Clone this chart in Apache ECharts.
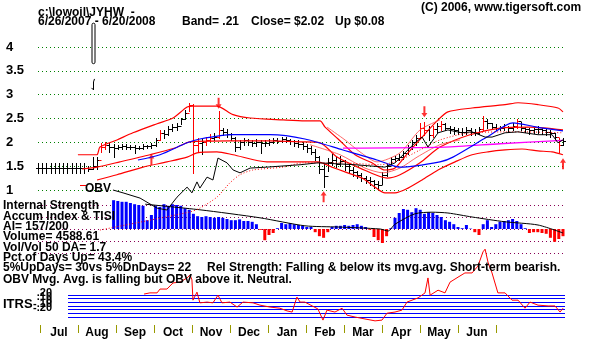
<!DOCTYPE html>
<html><head><meta charset="utf-8">
<script src="https://cdn.jsdelivr.net/npm/echarts@6/dist/echarts.min.js"></script>
<style>html,body{margin:0;padding:0;background:#fff}#c{width:611px;height:339px}</style>
</head><body><div id="c"></div>
<script>
// ---- axis labels ----
const months = ['Jul','Aug','Sep','Oct','Nov','Dec','Jan','Feb','Mar','Apr','May','Jun'];

// ---- daily price bars, one every second trading day (day 0 .. 250) ----
const priceHigh = [1.56,1.56,1.56,1.56,1.56,1.56,1.56,1.56,1.56,1.56,1.56,1.56,
 1.50,1.70,1.70,1.98,2.00,1.98,1.97,1.95,1.97,1.96,
 1.94,1.95,1.93,1.96,1.95,1.98,2.10,2.25,2.25,2.35,
 2.38,2.40,2.52,2.68,2.82,2.80,2.10,2.10,2.12,2.18,
 2.20,2.65,2.30,2.28,2.20,2.12,2.05,2.10,2.08,2.05,
 2.06,2.05,2.04,2.06,2.10,2.10,2.12,2.12,2.08,2.05,
 2.04,2.00,1.96,1.92,1.85,1.72,1.55,1.68,1.75,1.70,
 1.72,1.62,1.55,1.48,1.40,1.35,1.30,1.28,1.20,1.18,
 1.38,1.55,1.70,1.72,1.75,1.82,1.95,2.05,2.15,2.40,
 2.42,2.35,2.35,2.40,2.45,2.40,2.35,2.32,2.30,2.30,
 2.32,2.30,2.28,2.32,2.55,2.50,2.40,2.38,2.35,2.38,
 2.35,2.40,2.50,2.42,2.32,2.30,2.32,2.35,2.30,2.28,
 2.26,2.20,2.10,2.10];
const priceLow = [1.36,1.36,1.36,1.36,1.36,1.36,1.36,1.36,1.36,1.36,1.36,1.36,
 1.40,1.44,1.45,1.80,1.85,1.80,1.70,1.85,1.86,1.87,
 1.86,1.78,1.85,1.86,1.88,1.88,1.92,2.05,2.10,2.15,
 2.24,2.26,2.38,2.50,2.65,1.36,1.80,1.76,1.95,2.02,
 2.05,2.10,2.15,2.12,2.05,1.82,1.85,1.95,1.95,1.92,
 1.92,1.78,1.92,1.94,1.98,1.98,2.00,2.00,1.96,1.92,
 1.90,1.85,1.80,1.75,1.62,1.35,1.06,1.40,1.52,1.48,
 1.50,1.42,1.35,1.30,1.25,1.18,1.15,1.10,1.04,1.02,
 1.12,1.30,1.55,1.60,1.62,1.65,1.75,1.85,1.95,2.10,
 2.15,2.05,2.12,2.22,2.25,2.25,2.20,2.18,2.18,2.15,
 2.18,2.15,2.15,2.18,2.25,2.30,2.28,2.25,2.25,2.25,
 2.22,2.25,2.30,2.25,2.22,2.18,2.20,2.20,2.18,2.15,
 2.12,2.05,1.80,1.95];
const priceClose = [1.46,1.46,1.46,1.46,1.46,1.46,1.46,1.46,1.46,1.46,1.46,1.46,
 1.45,1.50,1.62,1.90,1.95,1.90,1.88,1.90,1.92,1.90,
 1.91,1.88,1.89,1.92,1.92,1.95,2.05,2.20,2.18,2.28,
 2.32,2.35,2.48,2.62,2.78,1.95,1.98,2.00,2.05,2.10,
 2.12,2.25,2.22,2.18,2.10,1.90,2.00,2.05,2.00,1.98,
 2.00,1.98,1.98,2.00,2.05,2.03,2.06,2.05,2.02,1.98,
 1.96,1.92,1.88,1.80,1.70,1.45,1.30,1.58,1.62,1.55,
 1.60,1.50,1.42,1.38,1.32,1.25,1.22,1.18,1.12,1.10,
 1.32,1.50,1.65,1.68,1.70,1.78,1.90,2.00,2.10,2.30,
 2.25,2.15,2.28,2.35,2.38,2.30,2.28,2.25,2.22,2.22,
 2.25,2.22,2.20,2.28,2.45,2.40,2.32,2.30,2.30,2.32,
 2.30,2.35,2.45,2.30,2.28,2.25,2.28,2.28,2.25,2.22,
 2.20,2.12,1.94,2.02];
const redBarDays = [30,32,58,72,74,76,80,82,86,182,184,188,192,212,228,248];

// stray print on the first trading day
const spikeDays = [26, 26];
const spikeTop = [4.50, 3.33];
const spikeBottom = [3.65, 3.10];

// ---- bands and averages on the price scale ----
const upperDays = [19,28,29.5,37.6,45.2,56.7,64.3,71,73.8,85.2,92.9,101,116.7,127.1,134.3,136.7,142.9,151,159,165.2,170,176.2,182.9,190.5,195.2,206.7,222.4,228.6,238.1,247.6,250];
const upperVals = [1.74,1.74,1.90,2.05,2.20,2.39,2.51,2.74,2.76,2.76,2.58,2.51,2.47,2.45,2.45,2.32,2.07,1.74,1.57,1.42,1.46,1.78,2.11,2.47,2.64,2.72,2.79,2.83,2.79,2.72,2.64];
const lowerDays = [28.1,37.6,50,61.4,71,75.7,85.2,92.9,109,126.2,133.3,140,146.2,154.3,160.5,165.2,170,176.2,182.9,190.5,198.6,206.7,214.3,222.4,230.5,238.1,244.8,250];
const lowerVals = [1.21,1.32,1.48,1.59,1.69,1.78,1.80,1.74,1.59,1.59,1.59,1.48,1.38,1.25,1.06,0.94,0.94,1.04,1.21,1.42,1.59,1.74,1.80,1.84,1.86,1.82,1.80,1.74];
const midDays = [21,28.1,39,53.3,65.2,72.4,91.4,110.5,124.8,134.3,142.4,153.3,166.2,172.4,181.9,191.4,205.7,220,234.3,250];
const midVals = [1.44,1.48,1.59,1.74,1.88,2.01,2.03,2.03,2.01,1.99,1.69,1.46,1.25,1.32,1.57,1.90,2.16,2.30,2.32,2.26];
const innerUpDays = [137.6,146.2,153.3,161.4,172.4,181.9,191.4];
const innerUpVals = [2.32,2.05,1.80,1.59,1.78,2.26,2.47];
const innerLoDays = [129.5,143.8,155.7,164.3,172.4,180.5,191.4,201];
const innerLoVals = [1.95,1.74,1.46,1.36,1.46,1.69,1.95,2.05];
const blueDays = [47.6,58.1,71,77.1,92.9,110.5,127.1,145.2,161.4,167.6,172.4,191.4,197.6,213.8,226.2,237.6,250];
const blueVals = [1.63,1.74,1.99,2.07,2.16,2.16,2.07,1.84,1.63,1.53,1.48,1.59,1.69,2.11,2.41,2.32,2.24];
const magentaDays = [145.2,193.8,220,250];
const magentaVals = [1.88,1.90,1.97,2.04];
const obvDays = [35.7,40.5,48.6,56.7,61.4,66.2,71,73.3,75.7,77.1,80.5,83.3,85.7,90,92.9,96.2,101,109,124.8,133.3,151,165.2,170,174.8,179.5,182.9,185.7,190.5,195.2,201.9,206.7,212.9,216.2,222.4,228.6,238.1,244.8,247.6,250];
const obvVals = [1.0,0.94,0.83,0.62,0.58,0.85,1.06,0.94,1.17,1.04,1.27,1.21,1.67,1.57,1.42,1.36,1.46,1.48,1.53,1.57,1.53,1.48,1.57,1.78,1.99,2.11,1.90,2.20,2.26,2.20,2.22,2.11,2.11,2.20,2.22,2.16,2.16,1.99,2.05];
const obvAvgDays = [29.5,72.4,77.1,85.2,91.4,96.2,102.4,116.7,126.2,143.8,162.9,172.4,181.9,191.4,205.7,229.5,250];
const obvAvgVals = [0.16,0.54,0.62,0.85,1.15,1.32,1.42,1.48,1.57,1.57,1.53,1.63,1.84,2.05,2.20,2.22,2.20];

const upArrowDays = [54,136,250];
const upArrowVals = [1.64,0.86,1.55];
const downArrowDays = [86,184];
const downArrowVals = [2.82,2.64];

// ---- accumulation index (every second day from day 36) and its average ----
const accumStart = 36;
const accumVals = [0.36,0.35,0.34,0.34,0.325,0.31,0.30,0.29,0.11,0.175,
 0.29,0.275,0.31,0.29,0.31,0.30,0.29,0.26,0.24,0.19,
 0.16,0.15,0.16,0.15,0.14,0.15,0.14,0.125,0.11,0.11,
 0.12,0.10,0.10,0.09,0.06,-0.01,-0.14,-0.075,-0.05,0.01,
 0.075,0.06,0.075,0.06,0.05,0.04,0.025,0.025,-0.04,-0.09,
 -0.11,-0.04,0.025,0.04,0.04,0.05,0.04,0.05,0.06,0.04,
 0.025,-0.01,-0.10,-0.14,-0.175,-0.09,0.01,0.14,0.20,0.25,
 0.24,0.21,0.26,0.24,0.19,0.21,0.20,0.175,0.15,0.11,
 0.09,0.06,0.025,0.01,0.05,0.005,-0.04,-0.075,0.06,0.11,
 0.025,0.06,0.09,0.10,0.11,0.125,0.10,0.06,0.01,-0.05,
 -0.04,-0.04,-0.05,-0.06,-0.11,-0.16,-0.125,-0.09];
const tisiDays = [51,77.1,105.7,127.1,142.9,162.9,166.7,170,179.5,187.6,195.2,206.7,222.4,238.1,250];
const tisiVals = [0.31,0.24,0.14,0.04,0.025,0,-0.025,0.06,0.19,0.21,0.20,0.15,0.09,0.05,-0.05];

// ---- ITRS relative strength ----
const itrsDays = [50.5,53.3,56.7,58.1,61.4,64.3,67.6,71,72.4,73.3,73.8,75.7,77.1,80.5,83.3,85.7,87.6,91.4,94.8,97.6,102.4,105.7,110.5,115.2,118.6,121,123.3,124.8,127.1,133.3,135.7,137.6,141.4,144.8,147.1,151,155.7,160.5,163.8,166.2,170,173.3,175.7,181,184.3,185.7,186.7,190.5,193.8,196.2,200,203.3,206.7,209.5,211.9,212.9,214.3,216.2,219,222.4,225.7,228.6,231.9,234.3,238.1,242.9,246.2,248.6,250];
const itrsVals = [0.30,0.33,0.33,0.43,0.43,0.59,0.61,0.72,0.80,0.67,0.14,0.35,0.07,0.09,0.07,0.27,0.07,0.09,-0.04,0.09,0.07,0.01,-0.04,-0.07,-0.14,-0.17,0.22,0.09,0.09,-0.09,-0.38,-0.12,-0.17,-0.07,-0.25,-0.30,-0.35,-0.40,-0.38,-0.20,-0.17,-0.12,0.09,0.20,0.33,0.72,0.27,0.40,0.33,0.61,0.74,0.85,0.85,1.03,1.40,1.47,1.13,0.85,0.33,0.33,0.14,0.14,-0.07,0.09,0.01,-0.01,-0.01,-0.17,-0.07];

// ---------------------------------------------------------------
const FAM = '"Liberation Sans", Arial, sans-serif';
const pair = (xs, ys) => xs.map((x, i) => [x, ys[i]]);

const bars = priceHigh.map((h, i) => {
  const day = i * 2;
  const prev = i > 0 ? priceClose[i - 1] : priceClose[i];
  return [day, h, priceLow[i], priceClose[i], prev, redBarDays.includes(day) ? 1 : 0];
});
const accumData = accumVals.map((v, i) => [accumStart + i * 2, v]);

function px(v) { return Math.round(v) + 0.5; }

function renderBar(params, api) {
  const d = api.value(0);
  const top = api.coord([d, api.value(1)]);
  const bot = api.coord([d, api.value(2)]);
  const c = api.coord([d, api.value(3)]);
  const o = api.coord([d, api.value(4)]);
  const col = api.value(5) ? '#ff0000' : '#000000';
  const x = px(top[0]);
  return { type: 'group', children: [
    { type: 'line', shape: { x1: x, y1: Math.round(top[1]), x2: x, y2: Math.round(bot[1]) + 1 }, style: { stroke: col, lineWidth: 1 } },
    { type: 'line', shape: { x1: x, y1: px(c[1]), x2: x + 2.5, y2: px(c[1]) }, style: { stroke: col, lineWidth: 1 } },
    { type: 'line', shape: { x1: x - 2.5, y1: px(o[1]), x2: x, y2: px(o[1]) }, style: { stroke: col, lineWidth: 1 } }
  ]};
}

function renderSpike(params, api) {
  const d = api.value(0);
  const top = api.coord([d, api.value(1)]);
  const bot = api.coord([d, api.value(2)]);
  const x = px(top[0]);
  if (params.dataIndex === 0) {
    return { type: 'rect', shape: { x: x - 1.5, y: top[1], width: 3, height: bot[1] - top[1], r: 1.5 },
      style: { stroke: '#000', fill: '#fff', lineWidth: 1 } };
  }
  return { type: 'polyline', shape: { points: [[x + 1, top[1]], [x, top[1] + 3], [x, bot[1]], [x - 2, bot[1] - 2]] },
    style: { stroke: '#000', fill: null, lineWidth: 1 } };
}

function lineSeries(xs, ys, color, width, extra) {
  return Object.assign({
    type: 'line', xAxisIndex: 0, yAxisIndex: 0, data: pair(xs, ys),
    showSymbol: false, symbol: 'none', smooth: 0.25, clip: false, silent: true,
    lineStyle: { color: color, width: width }
  }, extra || {});
}

const arrowDown = 'path://M2,0 L4,0 L4,6 L6,6 L3,10 L0,6 L2,6 Z';
const arrowUp = 'path://M3,0 L6,4 L4,4 L4,10 L2,10 L2,4 L0,4 Z';

const textStyle = (s, x, y, extra) => ({
  type: 'text', x: x, y: y, silent: true, z: 100,
  style: Object.assign({ text: s, font: 'bold 12px ' + FAM, fill: '#000', verticalAlign: 'middle', textVerticalAlign: 'middle' }, extra || {})
});

const option = {
  animation: false,
  backgroundColor: '#ffffff',
  grid: [
    { left: 38, right: 48, top: 47, height: 143 },      // price panel
    { left: 38, right: 48, top: 205, height: 48 },      // accumulation panel
    { left: 68, right: 46, top: 295, height: 22 },      // ITRS level lines
    { left: 38, right: 48, top: 244.2, height: 80.5 },  // ITRS curve
    { left: 40, width: 456, top: 280, height: 46 }      // month axis
  ],
  xAxis: [
    { gridIndex: 0, type: 'value', min: 0, max: 250, show: false },
    { gridIndex: 1, type: 'value', min: 0, max: 250, show: false },
    { gridIndex: 2, type: 'value', min: 0, max: 1, show: false },
    { gridIndex: 3, type: 'value', min: 0, max: 250, show: false },
    { gridIndex: 4, type: 'category', data: months, boundaryGap: true, position: 'bottom',
      axisLine: { show: false },
      axisTick: { show: true, length: 8, interval: 0, lineStyle: { color: '#999900', width: 1 } },
      axisLabel: { interval: 0, margin: 2, color: '#000', fontSize: 12, fontWeight: 'bold', fontFamily: FAM },
      splitLine: { show: false } }
  ],
  yAxis: [
    { gridIndex: 0, type: 'value', min: 1, max: 4, interval: 0.5,
      axisLine: { show: false }, axisTick: { show: false },
      axisLabel: { align: 'left', margin: 32, color: '#000', fontSize: 13, fontWeight: 'bold', fontFamily: FAM },
      splitLine: { show: true, lineStyle: { color: '#008000', type: [1, 3], width: 1 } } },
    { gridIndex: 1, type: 'value', min: -0.3, max: 0.3, interval: 0.15,
      axisLine: { show: false }, axisTick: { show: false }, axisLabel: { show: false },
      splitLine: { show: true, lineStyle: { color: '#880055', type: [1, 3], width: 1 } } },
    { gridIndex: 2, type: 'value', min: -0.3, max: 0.3, interval: 0.1,
      axisLine: { show: false }, axisTick: { show: false },
      axisLabel: { margin: 16, color: '#000', fontSize: 11, fontWeight: 'bold', fontFamily: FAM, verticalAlign: 'bottom',
        formatter: v => { const r = Math.round(v * 100); if (r === 0) return '0'; const s = '.' + String(Math.abs(r)); return r < 0 ? '-' + s : s; } },
      splitLine: { show: true, lineStyle: { color: '#0000ff', width: 1 } } },
    { gridIndex: 3, type: 'value', min: -0.5, max: 1.6, show: false },
    { gridIndex: 4, type: 'value', show: false }
  ],
  graphic: [
    textStyle('c:\\lowoil\\JYHW  -', 38, 13),
    textStyle('6/26/2007 - 6/20/2008', 38, 22),
    textStyle('Band= .21', 182, 22),
    textStyle('Close= $2.02', 251, 22),
    textStyle('Up $0.08', 335, 22),
    textStyle('(C) 2006, www.tigersoft.com', 421, 8),
    textStyle('OBV', 85, 189),
    { type: 'line', silent: true, shape: { x1: 80, y1: 185.5, x2: 86, y2: 185.5 }, style: { stroke: '#ff0000', lineWidth: 1 } },
    textStyle('Internal Strength', 3, 206),
    textStyle('Accum Index & TISI', 3, 217),
    textStyle('AI= 157/200', 3, 227),
    textStyle('Volume= 4588.61', 3, 237),
    textStyle('Vol/Vol 50 DA= 1.7', 3, 248),
    textStyle('Pct.of Days Up= 43.4%', 3, 258),
    textStyle('5%UpDays= 30vs 5%DnDays= 22', 3, 268),
    textStyle('Rel Strength: Falling & below its mvg.avg. Short-term bearish.', 207, 268),
    textStyle('OBV Mvg. Avg. is falling but OBV above it. Neutral.', 3, 280),
    textStyle('ITRS', 3, 304, { font: 'bold 13px ' + FAM })
  ],
  series: [
    // accumulation bars first so price-panel lines sit on top
    { type: 'bar', xAxisIndex: 1, yAxisIndex: 1, data: accumData, barWidth: 3, clip: false, silent: true,
      itemStyle: { color: p => (p.value[1] >= 0 ? '#0000ff' : '#ff0000') } },
    { type: 'line', xAxisIndex: 1, yAxisIndex: 1, data: pair(tisiDays, tisiVals), symbol: 'none', smooth: 0.25, clip: false, silent: true,
      lineStyle: { color: '#000', width: 1 } },
    lineSeries(upperDays, upperVals, '#ff0000', 1.2),
    lineSeries(lowerDays, lowerVals, '#ff0000', 1.2),
    lineSeries(midDays, midVals, '#ff0000', 1.2),
    lineSeries(innerUpDays, innerUpVals, '#ff4040', 0.8),
    lineSeries(innerLoDays, innerLoVals, '#ff4040', 0.8),
    lineSeries(magentaDays, magentaVals, '#ff00ff', 1.3),
    lineSeries(blueDays, blueVals, '#0000ff', 1.2),
    lineSeries(obvAvgDays, obvAvgVals, '#ff0000', 1, { lineStyle: { color: '#ff0000', width: 1, type: [1, 2] } }),
    lineSeries(obvDays, obvVals, '#000000', 1, { smooth: false }),
    { type: 'custom', xAxisIndex: 0, yAxisIndex: 0, data: bars, renderItem: renderBar, clip: false, silent: true },
    { type: 'custom', xAxisIndex: 0, yAxisIndex: 0, renderItem: renderSpike, clip: false, silent: true,
      data: spikeDays.map((d, i) => [d, spikeTop[i], spikeBottom[i]]) },
    { type: 'scatter', xAxisIndex: 0, yAxisIndex: 0, data: pair(upArrowDays, upArrowVals), symbol: arrowUp, symbolSize: [6, 11], clip: false, silent: true,
      itemStyle: { color: '#ff0000' } },
    { type: 'scatter', xAxisIndex: 0, yAxisIndex: 0, data: pair(downArrowDays, downArrowVals), symbol: arrowDown, symbolSize: [6, 11], clip: false, silent: true,
      itemStyle: { color: '#ff0000' } },
    // ITRS level lines carry the axis; the curve is drawn on its own scale
    { type: 'line', xAxisIndex: 2, yAxisIndex: 2, data: [], silent: true },
    { type: 'line', xAxisIndex: 3, yAxisIndex: 3, data: pair(itrsDays, itrsVals), symbol: 'none', clip: false, silent: true,
      lineStyle: { color: '#ff0000', width: 1 } },
    { type: 'line', xAxisIndex: 4, yAxisIndex: 4, data: [], silent: true }
  ]
};

const chart = echarts.init(document.getElementById('c'), null, { renderer: 'canvas' });
chart.setOption(option);
</script>
</body></html>
